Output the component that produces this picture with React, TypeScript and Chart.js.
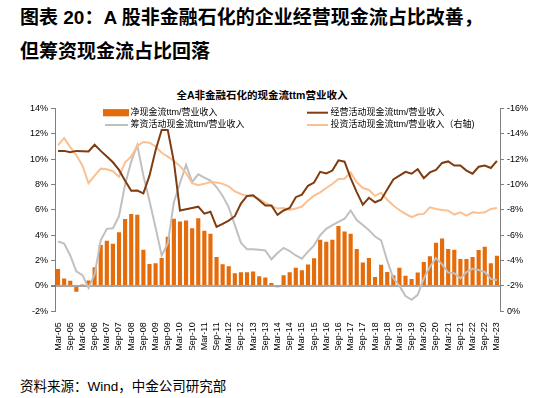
import React, { useEffect, useRef } from 'react';
import { Chart, registerables } from 'chart.js';

Chart.register(...registerables);

const quarters = [
  'Mar-05', 'Jun-05', 'Sep-05', 'Dec-05', 'Mar-06', 'Jun-06', 'Sep-06', 'Dec-06',
  'Mar-07', 'Jun-07', 'Sep-07', 'Dec-07', 'Mar-08', 'Jun-08', 'Sep-08', 'Dec-08',
  'Mar-09', 'Jun-09', 'Sep-09', 'Dec-09', 'Mar-10', 'Jun-10', 'Sep-10', 'Dec-10',
  'Mar-11', 'Jun-11', 'Sep-11', 'Dec-11', 'Mar-12', 'Jun-12', 'Sep-12', 'Dec-12',
  'Mar-13', 'Jun-13', 'Sep-13', 'Dec-13', 'Mar-14', 'Jun-14', 'Sep-14', 'Dec-14',
  'Mar-15', 'Jun-15', 'Sep-15', 'Dec-15', 'Mar-16', 'Jun-16', 'Sep-16', 'Dec-16',
  'Mar-17', 'Jun-17', 'Sep-17', 'Dec-17', 'Mar-18', 'Jun-18', 'Sep-18', 'Dec-18',
  'Mar-19', 'Jun-19', 'Sep-19', 'Dec-19', 'Mar-20', 'Jun-20', 'Sep-20', 'Dec-20',
  'Mar-21', 'Jun-21', 'Sep-21', 'Dec-21', 'Mar-22', 'Jun-22', 'Sep-22', 'Dec-22',
  'Mar-23',
];

// 净现金流ttm/营业收入 (%), left axis
const netCashFlow = [
  1.34, 0.58, 0.4, -0.45, 0.12, 0.42, 1.47, 3.23, 3.57, 3.33,
  4.23, 5.28, 5.67, 5.62, 2.86, 1.73, 1.78, 2.2, 3.88, 5.3,
  5.09, 5.17, 4.54, 5.33, 4.36, 4.12, 2.28, 1.71, 1.55, 1.0,
  1.08, 1.08, 1.13, 0.76, 0.66, 0.23, -0.1, 0.84, 1.08, 1.44,
  1.23, 1.7, 2.18, 3.65, 3.49, 3.65, 4.72, 4.3, 4.12, 2.91,
  1.84, 2.2, 0.71, 1.67, 1.1, 0.84, 1.44, 0.81, 0.55, 1.05,
  1.89, 2.34, 3.41, 3.75, 2.91, 2.86, 2.13, 2.13, 2.28, 2.83,
  3.1, 1.78, 2.39,
];

// 经营活动现金流ttm/营业收入 (%), left axis
const operatingCashFlow = [
  10.65, 10.65, 10.55, 10.65, 10.63, 10.6, 11.13, 10.65, 10.2, 9.75,
  9.15, 8.3, 7.5, 7.52, 7.3, 8.7, 10.7, 12.3, 12.3, 9.8,
  5.95, 6.05, 6.15, 6.25, 5.7, 5.85, 4.65, 4.9, 5.15, 5.5,
  6.5, 7.1, 7.15, 6.75, 6.35, 6.35, 5.6, 5.95, 6.15, 7.0,
  7.2, 7.9, 8.15, 9.0, 8.87, 9.1, 9.9, 9.8, 8.5, 7.4,
  6.4, 6.95, 6.6, 6.8, 7.6, 8.4, 8.7, 9.0, 8.85, 9.2,
  8.5, 8.95, 9.15, 9.7, 9.82, 9.5, 9.5, 9.1, 8.85, 9.4,
  9.5, 9.3, 9.87,
];

// 筹资活动现金流ttm/营业收入 (%), left axis
const financingCashFlow = [
  3.5, 3.35, 2.4, 1.15, 0.85, -0.15, 0.9, 3.6, 4.5, 4.55,
  5.5, 8.0, 9.8, 11.1, 8.7, 6.7, 4.6, 2.4, 3.35, 6.6,
  8.1, 9.55, 8.2, 8.8, 8.55, 8.3, 7.8, 7.1, 6.2, 4.8,
  3.4, 2.9, 2.9, 2.85, 2.8, 2.1, 2.6, 3.0, 2.75, 2.4,
  2.15, 2.7, 3.2, 4.0, 4.5, 4.8, 5.05, 5.3, 5.95, 5.2,
  4.8, 4.4, 3.9, 3.6, 2.0, 0.6, 0.0, -0.8, -1.1, -0.7,
  0.6, 1.5, 2.2, 1.7, 1.05, 1.0, 0.6, 1.1, 1.35, 1.25,
  1.1, 0.55, 0.45,
];

// 投资活动现金流ttm/营业收入 (%), right axis (reversed)
const investingCashFlow = [
  -13.1, -13.65, -12.95, -12.3, -11.5, -10.1, -10.7, -11.25, -11.2, -11.05,
  -10.6, -11.75, -12.2, -13.05, -13.35, -13.3, -13.0, -12.5, -12.2, -11.85,
  -11.45, -10.9, -10.1, -9.95, -10.05, -10.2, -10.15, -10.05, -9.85, -9.45,
  -9.25, -9.1, -9.05, -8.85, -8.55, -8.3, -8.1, -8.15, -8.0, -8.1,
  -8.26, -8.73, -9.12, -9.38, -9.72, -10.04, -10.43, -10.45, -10.95, -10.17,
  -9.72, -9.57, -9.1, -9.35, -8.8, -8.34, -7.99, -7.68, -7.42, -7.63,
  -7.68, -8.2, -8.07, -7.99, -7.94, -7.63, -7.81, -7.55, -7.81, -7.76,
  -7.81, -8.07, -8.15,
];

const seriesNames = [
  '净现金流ttm/营业收入',
  '经营活动现金流ttm/营业收入',
  '筹资活动现金流ttm/营业收入',
  '投资活动现金流ttm/营业收入（右轴)',
];

const COLORS = {
  net: '#E46C0A',
  op: '#7F3C10',
  fin: '#C0C0C0',
  inv: '#FBC091',
};

const FONT = '"Liberation Sans", "Noto Sans CJK SC", sans-serif';

const legendPlugin = {
  id: 'twoColLegend',
  beforeDatasetsDraw(chart: any) {
    const ctx = chart.ctx;
    ctx.save();
    ctx.font = `9px ${FONT}`;
    ctx.textBaseline = 'middle';
    const r1 = 12.7;
    const r2 = 25;
    // column 1
    ctx.fillStyle = COLORS.net;
    ctx.fillRect(103, r1 - 3.6, 26, 7.2);
    ctx.fillStyle = '#000';
    ctx.fillText(seriesNames[0], 130.5, r1);
    ctx.strokeStyle = COLORS.fin;
    ctx.lineWidth = 2;
    ctx.beginPath();
    ctx.moveTo(105, r2);
    ctx.lineTo(128, r2);
    ctx.stroke();
    ctx.fillText(seriesNames[2], 130.5, r2);
    // column 2
    ctx.strokeStyle = COLORS.op;
    ctx.beginPath();
    ctx.moveTo(307, r1);
    ctx.lineTo(328, r1);
    ctx.stroke();
    ctx.fillText(seriesNames[1], 330.5, r1);
    ctx.strokeStyle = COLORS.inv;
    ctx.beginPath();
    ctx.moveTo(307, r2);
    ctx.lineTo(328, r2);
    ctx.stroke();
    ctx.fillText(seriesNames[3], 330.5, r2);
    ctx.restore();
  },
};

function ChartCanvas() {
  const ref = useRef<HTMLCanvasElement | null>(null);
  useEffect(() => {
    if (!ref.current) return;
    const chart = new Chart(ref.current, {
      type: 'bar',
      data: {
        labels: quarters,
        datasets: [
          {
            type: 'bar',
            label: seriesNames[0],
            data: netCashFlow,
            backgroundColor: COLORS.net,
            borderWidth: 0,
            barPercentage: 0.68,
            categoryPercentage: 1.0,
            yAxisID: 'y',
            order: 10,
          },
          {
            type: 'line',
            label: seriesNames[2],
            data: financingCashFlow,
            borderColor: COLORS.fin,
            borderWidth: 2,
            pointRadius: 0,
            tension: 0,
            fill: false,
            yAxisID: 'y',
            order: 3,
          },
          {
            type: 'line',
            label: seriesNames[3],
            data: investingCashFlow,
            borderColor: COLORS.inv,
            borderWidth: 2,
            pointRadius: 0,
            tension: 0,
            fill: false,
            yAxisID: 'y1',
            order: 2,
          },
          {
            type: 'line',
            label: seriesNames[1],
            data: operatingCashFlow,
            borderColor: COLORS.op,
            borderWidth: 2,
            pointRadius: 0,
            tension: 0,
            fill: false,
            yAxisID: 'y',
            order: 1,
          },
        ],
      } as any,
      options: {
        animation: false,
        responsive: false,
        events: [],
        layout: { padding: { top: 7.5, left: 0, right: 0, bottom: 0 } },
        plugins: {
          legend: { display: false },
          title: { display: false },
          tooltip: { enabled: false },
        },
        scales: {
          x: {
            type: 'category',
            offset: true,
            grid: { display: false },
            border: { display: false },
            ticks: {
              autoSkip: false,
              minRotation: 90,
              maxRotation: 90,
              padding: 3,
              color: '#000',
              font: { size: 9, family: FONT },
              callback: (_v: any, i: number) => (i % 2 === 0 ? quarters[i] : null),
            },
            afterFit: (s: any) => {
              s.height = 38.7;
            },
          },
          y: {
            position: 'left',
            min: -2,
            max: 14,
            ticks: {
              stepSize: 2,
              padding: 3,
              color: '#000',
              font: { size: 9, family: FONT },
              callback: (v: any) => `${v}%`,
            },
            grid: {
              drawOnChartArea: true,
              color: (c: any) => (c.tick && c.tick.value === 0 ? '#A6A6A6' : 'rgba(0,0,0,0)'),
              lineWidth: (c: any) => (c.tick && c.tick.value === 0 ? 2 : 1),
              tickColor: '#808080',
              tickLength: 4,
            },
            border: { display: true, color: '#808080', width: 1 },
            afterFit: (s: any) => {
              s.width = 55;
            },
          },
          y1: {
            position: 'right',
            min: -16,
            max: 0,
            reverse: true,
            ticks: {
              stepSize: 2,
              padding: 3,
              color: '#000',
              font: { size: 9, family: FONT },
              callback: (v: any) => `${v}%`,
            },
            grid: {
              drawOnChartArea: false,
              tickColor: '#808080',
              tickLength: 4,
            },
            border: { display: true, color: '#808080', width: 1 },
            afterFit: (s: any) => {
              s.width = 50;
            },
          },
        },
      } as any,
      plugins: [legendPlugin],
    });
    return () => chart.destroy();
  }, []);
  return (
    <canvas
      ref={ref}
      width={550}
      height={250}
      style={{ position: 'absolute', left: 0, top: 100, width: 550, height: 250 }}
    />
  );
}

export default function App() {
  return (
    <div
      style={{
        position: 'absolute',
        left: 0,
        top: 0,
        width: 550,
        height: 398,
        background: '#fff',
        overflow: 'hidden',
        fontFamily: FONT,
        color: '#000',
      }}
    >
      <div
        style={{
          position: 'absolute',
          left: 20,
          top: 7,
          fontSize: 19,
          lineHeight: '21px',
          fontWeight: 'bold',
          whiteSpace: 'nowrap',
        }}
      >
        图表 20：A 股非金融石化的企业经营现金流占比改善，
      </div>
      <div
        style={{
          position: 'absolute',
          left: 20,
          top: 40.5,
          fontSize: 19,
          lineHeight: '21px',
          fontWeight: 'bold',
          whiteSpace: 'nowrap',
        }}
      >
        但筹资现金流占比回落
      </div>
      <div
        style={{
          position: 'absolute',
          left: 0,
          top: 89,
          width: 524,
          textAlign: 'center',
          fontSize: 10.5,
          lineHeight: '12px',
          fontWeight: 'bold',
          whiteSpace: 'nowrap',
        }}
      >
        全A非金融石化的现金流ttm营业收入
      </div>
      <ChartCanvas />
      <div
        style={{
          position: 'absolute',
          left: 20,
          top: 379,
          fontSize: 13.5,
          lineHeight: '16px',
          whiteSpace: 'nowrap',
        }}
      >
        资料来源：Wind，中金公司研究部
      </div>
    </div>
  );
}
